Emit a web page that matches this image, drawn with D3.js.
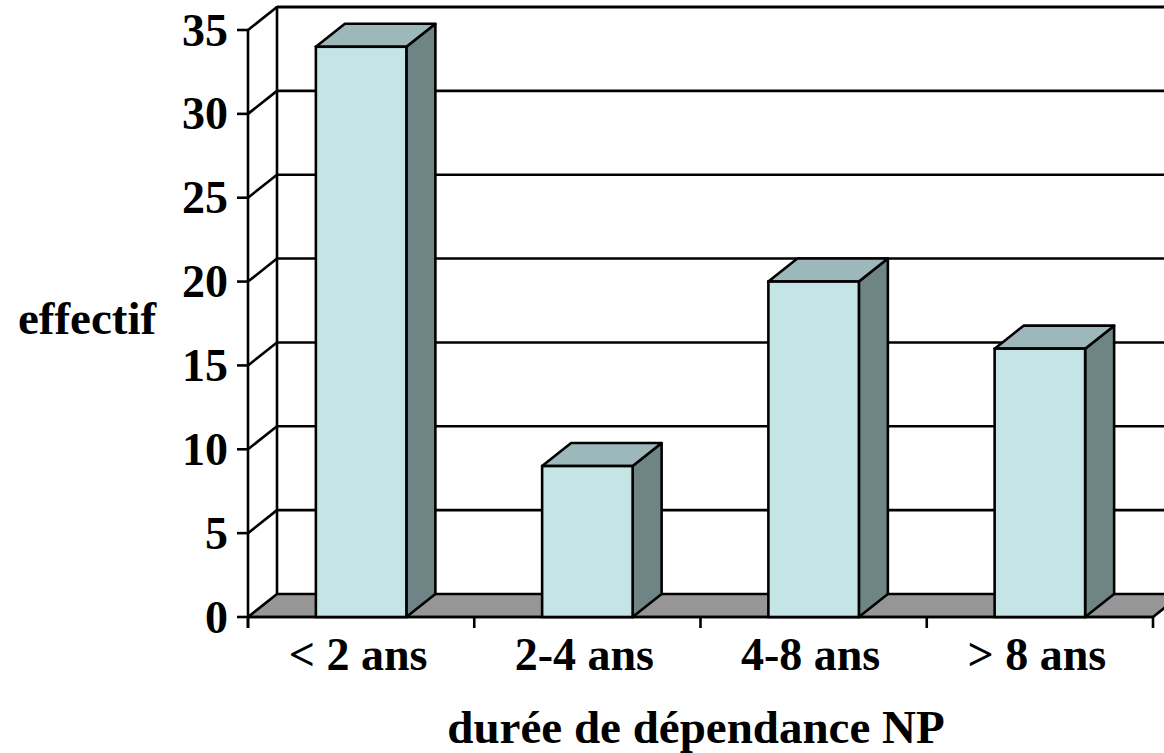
<!DOCTYPE html>
<html>
<head>
<meta charset="utf-8">
<script src="https://cdn.jsdelivr.net/npm/d3@7/dist/d3.min.js"></script>
<style>
  html, body { margin: 0; padding: 0; background: #fff; }
  svg { display: block; }
  text { font-family: "Liberation Serif", "Times New Roman", serif; font-weight: bold; fill: #000; }
</style>
</head>
<body>
<svg id="chart" width="1164" height="753"></svg>
<script>
// Durée de dépendance : effectif par classe
const categories = ["< 2 ans", "2-4 ans", "4-8 ans", "> 8 ans"];
const effectifs = [34, 9, 20, 16];
const yTicks = [0, 5, 10, 15, 20, 25, 30, 35];
const yTitle = "effectif";
const xTitle = "durée de dépendance NP";

const svg = d3.select("#chart");
const W = 1164, H = 753;

// 3D depth offset (oblique projection)
const DX = 29, DY = -23;
const x0 = 248, x1 = 1153, yBase = 617, yTop = 30;

const x = d3.scaleBand().domain(categories).range([x0, x1]).padding(0);
const y = d3.scaleLinear().domain([0, 35]).range([yBase, yTop]);

const stroke = "#000", sw = 2.6;
const colFront = "#c4e4e6", colTop = "#9db8ba", colSide = "#6f8585", colFloor = "#969696";

const poly = pts => pts.map(p => p.join(",")).join(" ");

// back wall gridlines
svg.append("g").selectAll("line").data(yTicks.filter(v => v > 0)).join("line")
  .attr("x1", x0 + DX).attr("x2", W + 40)
  .attr("y1", d => y(d) + DY).attr("y2", d => y(d) + DY)
  .attr("stroke", stroke).attr("stroke-width", d => d === 35 ? 3.2 : sw);

// left wall: back edge and diagonals
const wall = svg.append("g");
wall.append("line")
  .attr("x1", x0 + DX).attr("x2", x0 + DX)
  .attr("y1", y(35) + DY - 1).attr("y2", y(0) + DY)
  .attr("stroke", stroke).attr("stroke-width", sw);
wall.selectAll("line.diag").data(yTicks.filter(v => v > 0)).join("line")
  .attr("class", "diag")
  .attr("x1", x0).attr("y1", d => y(d))
  .attr("x2", x0 + DX).attr("y2", d => y(d) + DY)
  .attr("stroke", stroke).attr("stroke-width", sw);

// floor
svg.append("polygon")
  .attr("points", poly([[x0, y(0)], [x1, y(0)], [x1 + DX, y(0) + DY], [x0 + DX, y(0) + DY]]))
  .attr("fill", colFloor).attr("stroke", stroke).attr("stroke-width", sw)
  .attr("stroke-linejoin", "round");

// front axis line and ticks
const axis = svg.append("g");
axis.append("line")
  .attr("x1", x0).attr("x2", x0).attr("y1", y(35)).attr("y2", y(0) + 11)
  .attr("stroke", stroke).attr("stroke-width", sw);
axis.selectAll("line.yt").data(yTicks).join("line")
  .attr("class", "yt")
  .attr("x1", x0 - 11).attr("x2", x0)
  .attr("y1", d => y(d)).attr("y2", d => y(d))
  .attr("stroke", stroke).attr("stroke-width", sw);
axis.selectAll("text.yl").data(yTicks).join("text")
  .attr("class", "yl")
  .attr("x", 228).attr("y", d => y(d))
  .attr("dy", "0.34em")
  .attr("text-anchor", "end")
  .attr("font-size", 46)
  .text(d => d);

// x-axis ticks at band boundaries
const xBounds = categories.map(c => x(c)).concat([x1]);
axis.selectAll("line.xt").data(xBounds).join("line")
  .attr("class", "xt")
  .attr("x1", d => d).attr("x2", d => d)
  .attr("y1", y(0)).attr("y2", y(0) + 11)
  .attr("stroke", stroke).attr("stroke-width", sw);
axis.append("line")
  .attr("x1", x0).attr("x2", x1).attr("y1", y(0)).attr("y2", y(0))
  .attr("stroke", stroke).attr("stroke-width", sw);

// 3D bars
const bw = x.bandwidth() * 0.4;
const bars = svg.append("g").selectAll("g").data(categories.map((c, i) => ({ c, v: effectifs[i] }))).join("g");
bars.each(function (d) {
  const g = d3.select(this);
  const l = x(d.c) + x.bandwidth() / 2 - bw / 2, r = l + bw;
  const t = y(d.v), b = y(0);
  g.append("polygon")
    .attr("points", poly([[r, b], [r, t], [r + DX, t + DY], [r + DX, b + DY]]))
    .attr("fill", colSide).attr("stroke", stroke).attr("stroke-width", sw).attr("stroke-linejoin", "round");
  g.append("polygon")
    .attr("points", poly([[l, t], [r, t], [r + DX, t + DY], [l + DX, t + DY]]))
    .attr("fill", colTop).attr("stroke", stroke).attr("stroke-width", sw).attr("stroke-linejoin", "round");
  g.append("rect")
    .attr("x", l).attr("y", t).attr("width", bw).attr("height", b - t)
    .attr("fill", colFront).attr("stroke", stroke).attr("stroke-width", sw);
});

// category labels
svg.append("g").selectAll("text").data(categories).join("text")
  .attr("x", d => x(d) + x.bandwidth() / 2 - 3)
  .attr("y", 670)
  .attr("text-anchor", "middle")
  .attr("font-size", 46)
  .text(d => d);

// axis titles
svg.append("text")
  .attr("x", 87).attr("y", 334)
  .attr("text-anchor", "middle")
  .attr("font-size", 47)
  .text(yTitle);
svg.append("text")
  .attr("x", 696).attr("y", 743)
  .attr("text-anchor", "middle")
  .attr("font-size", 47)
  .text(xTitle);
</script>
</body>
</html>
